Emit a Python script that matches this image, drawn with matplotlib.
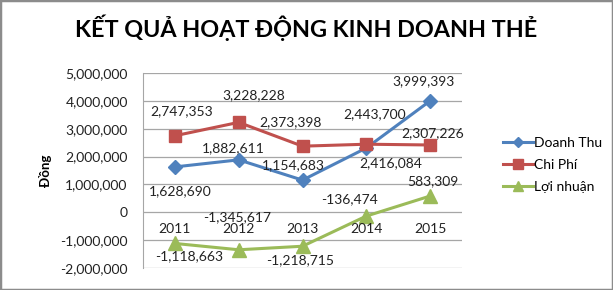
import matplotlib
matplotlib.use('Agg')
import matplotlib.pyplot as plt
from matplotlib.patches import Rectangle

plt.rcParams['font.family'] = ['Lato', 'DejaVu Sans']

years = ['2011', '2012', '2013', '2014', '2015']
doanh_thu = [1628690, 1882611, 1154683, 2307226, 3999393]
chi_phi = [2747353, 3228228, 2373398, 2443700, 2416084]
loi_nhuan = [-1118663, -1345617, -1218715, -136474, 583309]

# label offsets in pixels (dx, dy) for each point
dt_off = [(5, -24), (-5, 12), (-9, 15), (66, 15), (-7, 20)]
cp_off = [(7, 25), (15, 27), (-12, 24), (8, 30), (-39, -18)]
ln_off = [(14, -13), (-2, 33), (-2, -14), (-17, 17), (3, 15)]

blue = '#4F81BD'
red = '#C0504D'
green = '#9BBB59'

fig = plt.figure(figsize=(6.13, 2.90), dpi=100)
ax = fig.add_axes([143 / 613, 1 - 268 / 290, 319 / 613, 195 / 290])

x = list(range(len(years)))
ax.plot(x, doanh_thu, color=blue, lw=2.2, marker='D', ms=7, label='Doanh Thu')
ax.plot(x, chi_phi, color=red, lw=2.2, marker='s', ms=9, label='Chi Phí')
ax.plot(x, loi_nhuan, color=green, lw=2.2, marker='^', ms=10, label='Lợi nhuận')

for vals, offs in [(doanh_thu, dt_off), (chi_phi, cp_off), (loi_nhuan, ln_off)]:
    for i, v in enumerate(vals):
        ax.annotate(f'{v:,}', (i, v), xytext=offs[i], textcoords='offset pixels',
                    ha='center', va='center', fontsize=10, color='#222222')

for i, yr in enumerate(years):
    ax.text(i, -600000, yr, ha='center', va='center', fontsize=10, color='#222222')

ax.set_xlim(-0.5, 4.5)
ax.set_ylim(-2000000, 5000000)
ax.set_yticks(range(-2000000, 5000001, 1000000))
ax.set_yticklabels([f'{t:,}' for t in range(-2000000, 5000001, 1000000)], fontsize=10, color='#222222')
ax.set_xticks([])
ax.tick_params(axis='y', length=0, pad=11)
ax.grid(axis='y', color='#A6A6A6', lw=0.9)
ax.set_axisbelow(True)
for s in ['top', 'right', 'bottom']:
    ax.spines[s].set_visible(False)
ax.spines['left'].set_color('#A6A6A6')
ax.set_ylabel('Đồng', fontsize=9.5, fontweight='bold')
ax.yaxis.set_label_coords(-0.285, 0.5)

fig.text(0.5, 1 - 28 / 290, 'KẾT QUẢ HOẠT ĐỘNG KINH DOANH THẺ', ha='center', va='center',
         fontsize=16.8, fontweight='bold')

leg = ax.legend(loc='center left', bbox_to_anchor=(490 / 613, 1 - 165 / 290),
                bbox_transform=fig.transFigure, frameon=False, fontsize=10,
                handlelength=2.2, handletextpad=0.1, labelspacing=0.7, markerscale=0.75)

fig.patches.append(Rectangle((0, 0), 1, 1, transform=fig.transFigure, fill=False,
                             edgecolor='#8C8C8C', lw=2.5))

fig.savefig('out.png', dpi=100)
